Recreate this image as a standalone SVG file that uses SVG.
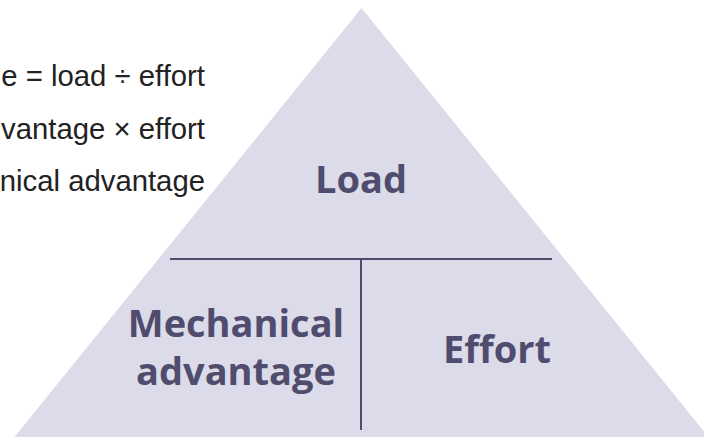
<svg xmlns="http://www.w3.org/2000/svg" width="704" height="437" viewBox="0 0 704 437">
<style>
.tri{fill:#dcdbe9}
.div{stroke:#4f4c6d;stroke-width:2;fill:none}
.lbl{font-family:"Open Sans","Noto Sans",sans-serif;font-weight:700;font-size:38px;fill:#4f4c6d;text-anchor:middle}
.eq{font-family:"Liberation Sans",Arial,sans-serif;font-size:29.3px;fill:#222;text-anchor:end}
</style>
<rect width="704" height="437" fill="#ffffff"/>
<g id="equations">
<text class="eq" x="205" y="86">e = load ÷ effort</text>
<text class="eq" x="205" y="139">vantage × effort</text>
<text class="eq" x="205" y="191">nical advantage</text>
</g>
<g id="triangle">
<polygon class="tri" points="361.5,8 708.5,437 14.5,437"/>
</g>
<g id="connectors">
<line class="div" x1="170" y1="259" x2="552" y2="259"/>
<line class="div" x1="361" y1="259" x2="361" y2="430"/>
</g>
<g id="node-load">
<text class="lbl" x="361" y="193">Load</text>
</g>
<g id="node-ma">
<text class="lbl" x="236" y="337">Mechanical</text>
<text class="lbl" x="236" y="385">advantage</text>
</g>
<g id="node-effort">
<text class="lbl" x="497" y="363">Effort</text>
</g>
</svg>
